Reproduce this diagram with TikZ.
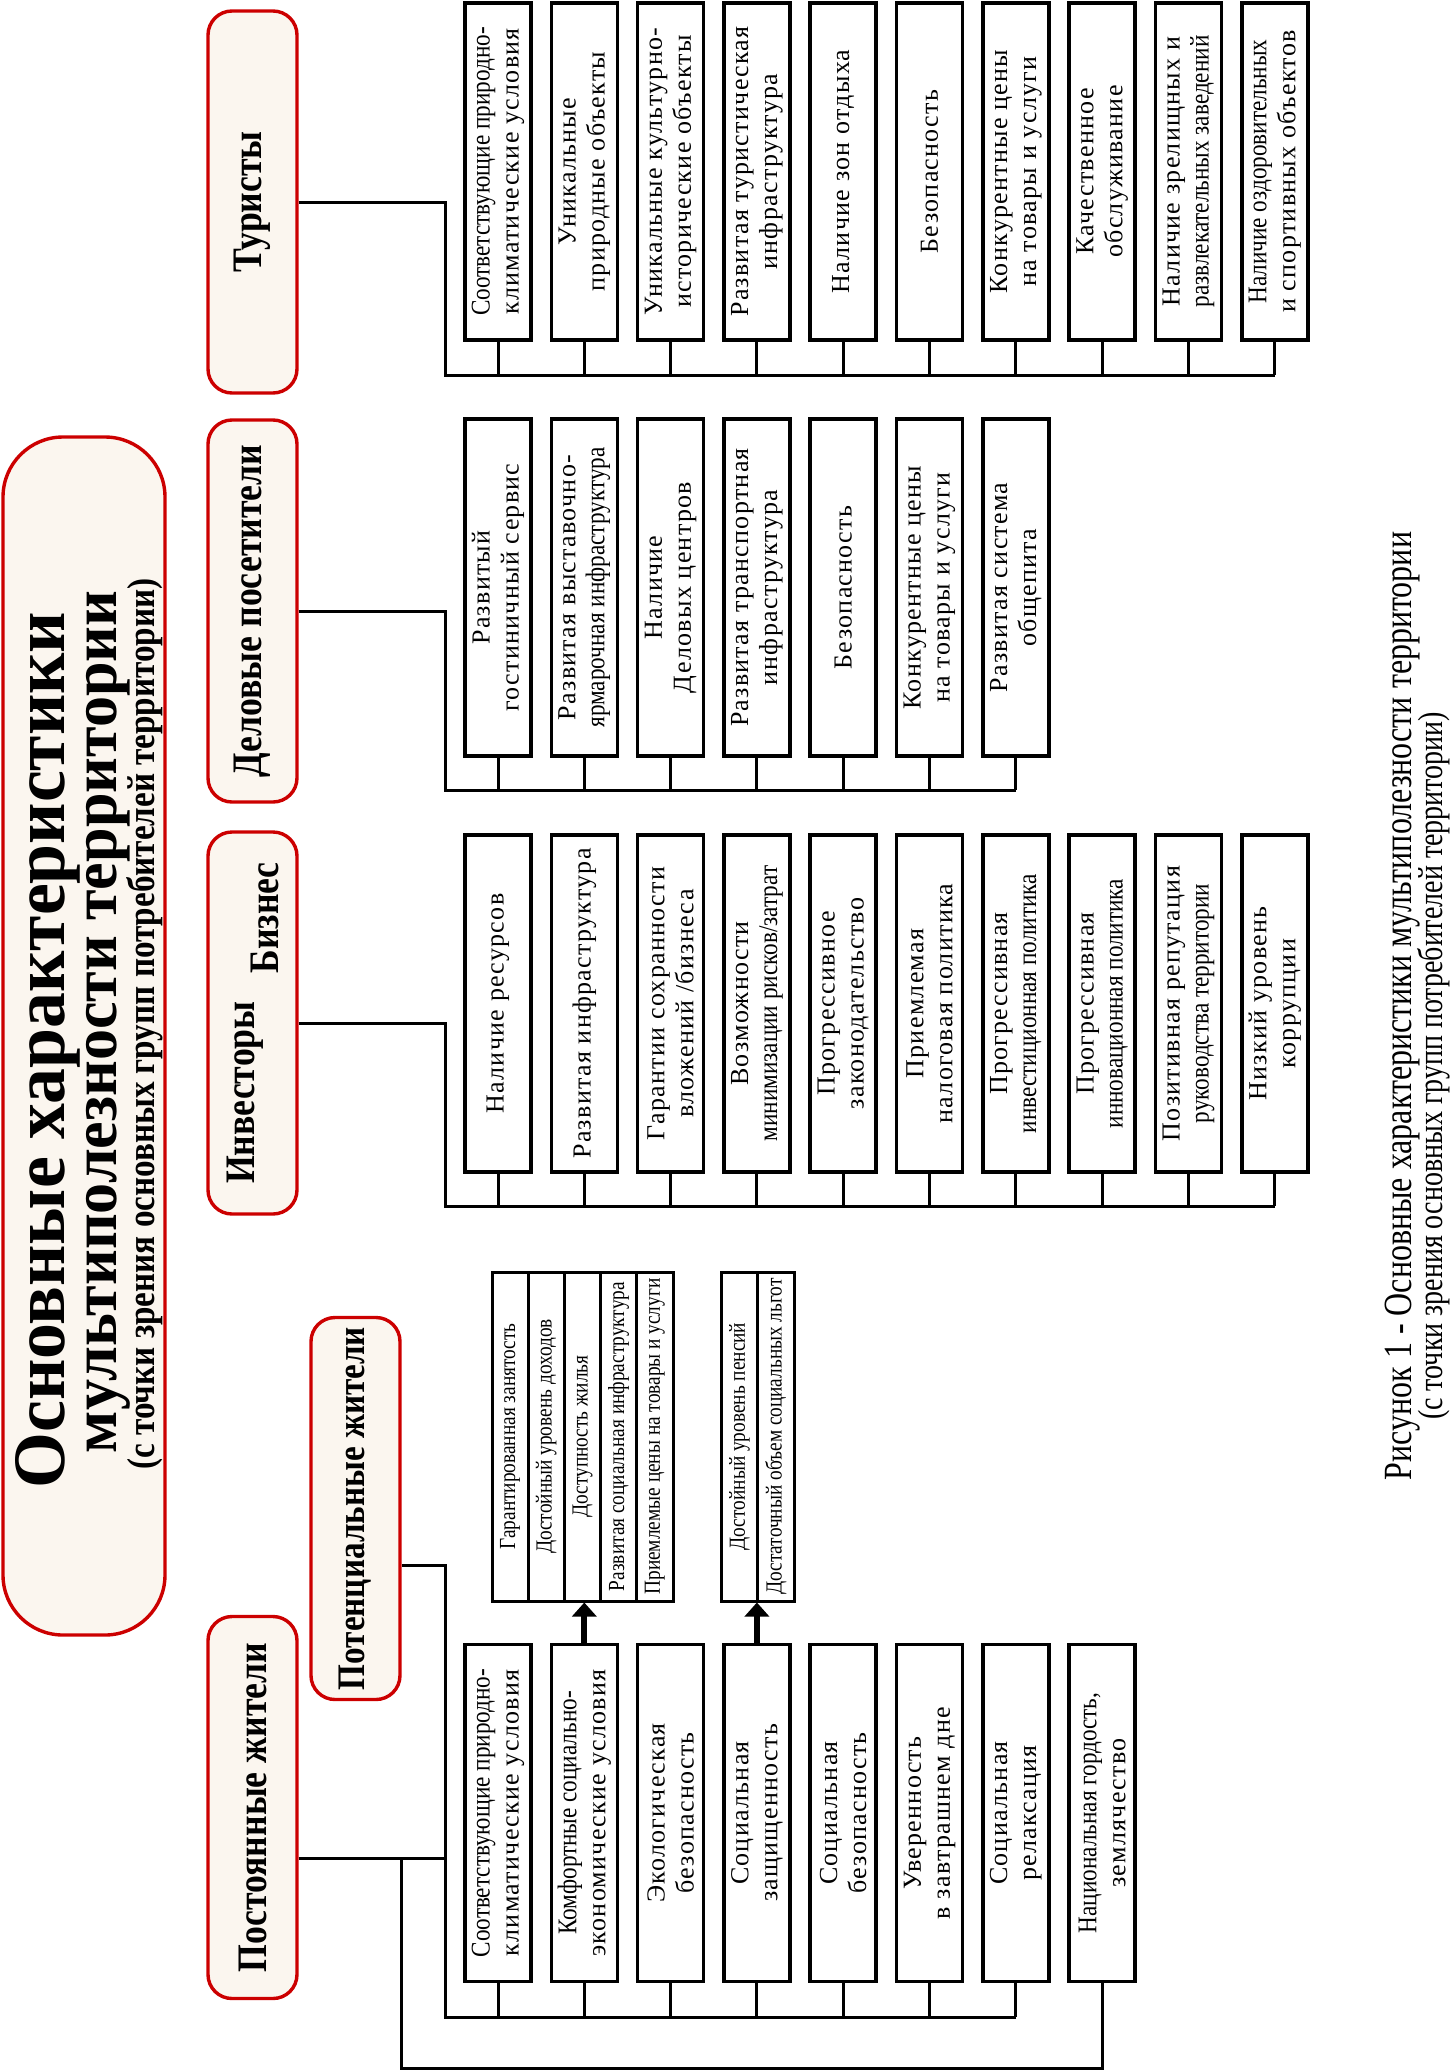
\documentclass[tikz,border=0pt]{standalone}
\usepackage{fontspec}
\usepackage{xcolor}
\usepackage{tikz}
\usetikzlibrary{shapes,arrows.meta,positioning}
\setmainfont{Liberation Serif}
\newfontfamily\boxfont[LetterSpace=5]{Liberation Serif}
\newfontfamily\narrowfont[FakeStretch=0.86]{Liberation Serif}
\newfontfamily\smallfont[FakeStretch=0.84]{Liberation Serif}
\newfontfamily\headfont[FakeStretch=0.85]{Liberation Serif}
\newfontfamily\titlefont[FakeStretch=0.97]{Liberation Serif}
\newfontfamily\capfont[FakeStretch=0.8]{Liberation Serif}
\newcommand{\nar}[1]{{\narrowfont\fontsize{13.5}{14}\selectfont #1}}
\definecolor{accentred}{RGB}{204,0,0}
\definecolor{cream}{RGB}{251,246,239}

\begin{document}
\begin{tikzpicture}[x=0.5pt, y=-0.5pt, node distance=43.15pt,
    crit/.style={rectangle, draw, line width=1.8pt, fill=white, rotate=90, minimum width=168.5pt, minimum height=33pt, inner sep=1pt, align=center, font=\boxfont\fontsize{13}{14.5}\selectfont},
    group/.style={rectangle, rounded corners=12pt, draw=accentred, line width=1.7pt, fill=cream, rotate=90, minimum width=191pt, minimum height=44.5pt, font=\headfont\bfseries\fontsize{21}{24}\selectfont},
    cell/.style={rectangle, draw, line width=1.5pt, fill=white, rotate=90, minimum width=164.5pt, minimum height=18.1pt, inner sep=0pt, font=\smallfont\fontsize{11.5}{12}\selectfont},
    conn/.style={line width=1.5pt},
    push/.style={line width=3pt, -{Triangle[width=12pt,length=7pt]}}]

    \useasboundingbox (0,0) rectangle (1450,2072);

    \node[rectangle, rounded corners=30pt, draw=accentred, line width=1.7pt, fill=cream, rotate=90, minimum width=599pt, minimum height=81pt] (title) at (84,1036) {};
    \node[rotate=90, font=\titlefont\bfseries\fontsize{37}{40}\selectfont] (titleA) at (48,1050) {Основные характеристики};
    \node[rotate=90, font=\titlefont\bfseries\fontsize{32}{36}\selectfont] (titleB) at (108,1022) {мультиполезности территории};
    \node[rotate=90, font=\headfont\bfseries\fontsize{19.5}{22}\selectfont] (titleC) at (145,1024) {(с точки зрения основных групп потребителей территории)};

    \node[group] (tur) at (252.5,202) {Туристы};
    \node[below of=tur, node distance=204.5pt, group] (del) {Деловые посетители};
    \node[below of=del, node distance=206pt, group] (inv) {\raisebox{7pt}{Инвесторы}\hspace{14pt}\raisebox{-5pt}{Бизнес}};
    \node[group] (post) at (252.5,1807.5) {Постоянные жители};
    \node[group, font=\headfont\bfseries\fontsize{19.5}{22}\selectfont] (pot) at (355.5,1508.5) {Потенциальные жители};

    \node[crit] (t1) at (498,171.5) {\nar{Соответствующие природно-}\\климатические условия};
    \node[right of=t1, crit] (t2) {Уникальные\\природные объекты};
    \node[right of=t2, crit] (t3) {Уникальные культурно-\\исторические объекты};
    \node[right of=t3, crit] (t4) {Развитая туристическая\\инфраструктура};
    \node[right of=t4, crit] (t5) {Наличие зон отдыха};
    \node[right of=t5, crit] (t6) {Безопасность};
    \node[right of=t6, crit] (t7) {Конкурентные цены\\на товары и услуги};
    \node[right of=t7, crit] (t8) {Качественное\\обслуживание};
    \node[right of=t8, crit] (t9) {Наличие зрелищных и\\\nar{развлекательных заведений}};
    \node[right of=t9, crit] (t10) {\nar{Наличие оздоровительных}\\и спортивных объектов};

    \node[below of=t1, node distance=208pt, crit] (d1) {Развитый\\гостиничный сервис};
    \node[right of=d1, crit] (d2) {Развитая выставочно-\\\nar{ярмарочная инфраструктура}};
    \node[right of=d2, crit] (d3) {Наличие\\Деловых центров};
    \node[right of=d3, crit] (d4) {Развитая транспортная\\инфраструктура};
    \node[right of=d4, crit] (d5) {Безопасность};
    \node[right of=d5, crit] (d6) {Конкурентные цены\\на товары и услуги};
    \node[right of=d6, crit] (d7) {Развитая система\\общепита};

    \node[below of=d1, node distance=208pt, crit] (i1) {Наличие ресурсов};
    \node[right of=i1, crit] (i2) {Развитая инфраструктура};
    \node[right of=i2, crit] (i3) {Гарантии сохранности\\вложений /бизнеса};
    \node[right of=i3, crit] (i4) {Возможности\\\nar{минимизации рисков/затрат}};
    \node[right of=i4, crit] (i5) {Прогрессивное\\законодательство};
    \node[right of=i5, crit] (i6) {Приемлемая\\налоговая политика};
    \node[right of=i6, crit] (i7) {Прогрессивная\\\nar{инвестиционная политика}};
    \node[right of=i7, crit] (i8) {Прогрессивная\\\nar{инновационная политика}};
    \node[right of=i8, crit] (i9) {Позитивная репутация\\\nar{руководства территории}};
    \node[right of=i9, crit] (i10) {Низкий уровень\\коррупции};

    \node[crit] (p1) at (498,1813) {\nar{Соответствующие природно-}\\климатические условия};
    \node[right of=p1, crit] (p2) {\nar{Комфортные социально-}\\экономические условия};
    \node[right of=p2, crit] (p3) {Экологическая\\безопасность};
    \node[right of=p3, crit] (p4) {Социальная\\защищенность};
    \node[right of=p4, crit] (p5) {Социальная\\безопасность};
    \node[right of=p5, crit] (p6) {Уверенность\\в завтрашнем дне};
    \node[right of=p6, crit] (p7) {Социальная\\релаксация};
    \node[right of=p7, crit] (p8) {\nar{Национальная гордость,}\\землячество};

    \node[cell] (g1) at (510.1,1436.5) {Гарантированная занятость};
    \node[right of=g1, node distance=18.1pt, cell] (g2) {Достойный уровень доходов};
    \node[right of=g2, node distance=18.1pt, cell] (g3) {Доступность жилья};
    \node[right of=g3, node distance=18.1pt, cell] (g4) {Развитая социальная инфраструктура};
    \node[right of=g4, node distance=18.1pt, cell] (g5) {Приемлемые цены на товары и услуги};

    \node[cell] (h1) at (739.5,1436.5) {Достойный уровень пенсий};
    \node[right of=h1, node distance=18.2pt, cell] (h2) {Достаточный объем социальных льгот};

    \coordinate (tbus) at (445,375);
    \coordinate (dbus) at (445,790);
    \coordinate (ibus) at (445,1206);
    \coordinate (pbus) at (445,2017);
    \coordinate (obus) at (401,2068);
    \coordinate (potj) at (445,1565);
    \coordinate (postj) at (445,1858);

    \draw[conn] (tur.south) -| (tbus) -- (tbus -| t10.west);
    \draw[conn] (t1.west) -- (t1.west |- tbus) (t2.west) -- (t2.west |- tbus) (t3.west) -- (t3.west |- tbus) (t4.west) -- (t4.west |- tbus) (t5.west) -- (t5.west |- tbus) (t6.west) -- (t6.west |- tbus) (t7.west) -- (t7.west |- tbus) (t8.west) -- (t8.west |- tbus) (t9.west) -- (t9.west |- tbus) (t10.west) -- (t10.west |- tbus);

    \draw[conn] (del.south) -| (dbus) -- (dbus -| d7.west);
    \draw[conn] (d1.west) -- (d1.west |- dbus) (d2.west) -- (d2.west |- dbus) (d3.west) -- (d3.west |- dbus) (d4.west) -- (d4.west |- dbus) (d5.west) -- (d5.west |- dbus) (d6.west) -- (d6.west |- dbus) (d7.west) -- (d7.west |- dbus);

    \draw[conn] (inv.south) -| (ibus) -- (ibus -| i10.west);
    \draw[conn] (i1.west) -- (i1.west |- ibus) (i2.west) -- (i2.west |- ibus) (i3.west) -- (i3.west |- ibus) (i4.west) -- (i4.west |- ibus) (i5.west) -- (i5.west |- ibus) (i6.west) -- (i6.west |- ibus) (i7.west) -- (i7.west |- ibus) (i8.west) -- (i8.west |- ibus) (i9.west) -- (i9.west |- ibus) (i10.west) -- (i10.west |- ibus);

    \draw[conn] (potj -| pot.south) -- (potj) -- (pbus) -- (pbus -| p7.west);
    \draw[conn] (postj -| post.south) -- (postj);
    \draw[conn] (postj -| obus) -- (obus) -- (obus -| p8.west) -- (p8.west);
    \draw[conn] (p1.west) -- (p1.west |- pbus) (p2.west) -- (p2.west |- pbus) (p3.west) -- (p3.west |- pbus) (p4.west) -- (p4.west |- pbus) (p5.west) -- (p5.west |- pbus) (p6.west) -- (p6.west |- pbus) (p7.west) -- (p7.west |- pbus);

    \draw[push] (p2.east) -- (p2.east |- g3.west);
    \draw[push] (p4.east) -- (p4.east |- h1.west);

    \node[rotate=90, font=\capfont\fontsize{20}{22}\selectfont] (capA) at (1403,1006) {Рисунок 1 - Основные характеристики мультиполезности территории};
    \node[rotate=90, font=\capfont\fontsize{17.5}{20}\selectfont] (capB) at (1434,1066) {(с точки зрения основных групп потребителей территории)};
\end{tikzpicture}
\end{document}
